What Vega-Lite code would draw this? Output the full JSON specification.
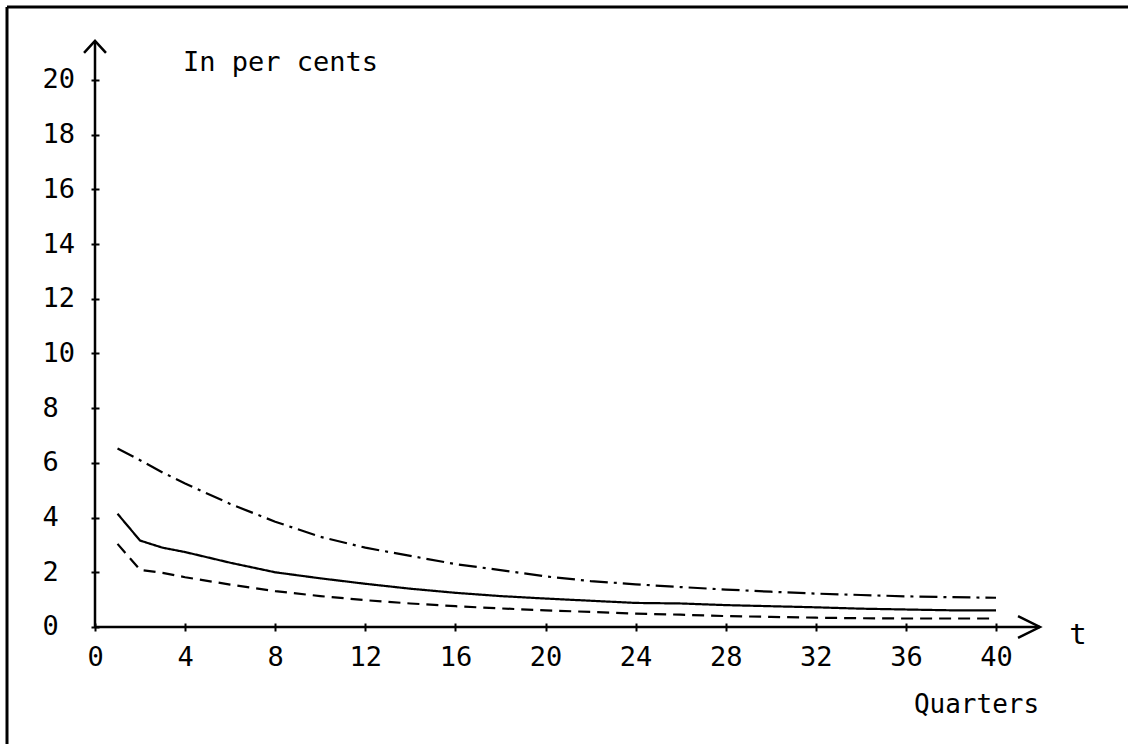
{
  "$schema": "https://vega.github.io/schema/vega-lite/v6.json",
  "width": 1121,
  "height": 737,
  "autosize": {"type": "none"},
  "padding": {"left": 7, "top": 7, "right": 0, "bottom": 0},
  "background": "white",
  "config": {
    "view": {"stroke": null},
    "font": "DejaVu Sans Mono"
  },
  "layer": [
    {
      "data": {
        "values": [
          {"t": 1, "value": 6.53, "series": "A"},
          {"t": 2, "value": 6.1, "series": "A"},
          {"t": 3, "value": 5.65, "series": "A"},
          {"t": 4, "value": 5.25, "series": "A"},
          {"t": 6, "value": 4.5, "series": "A"},
          {"t": 8, "value": 3.85, "series": "A"},
          {"t": 10, "value": 3.3, "series": "A"},
          {"t": 12, "value": 2.9, "series": "A"},
          {"t": 14, "value": 2.6, "series": "A"},
          {"t": 16, "value": 2.3, "series": "A"},
          {"t": 18, "value": 2.08, "series": "A"},
          {"t": 20, "value": 1.85, "series": "A"},
          {"t": 22, "value": 1.68, "series": "A"},
          {"t": 24, "value": 1.56, "series": "A"},
          {"t": 26, "value": 1.46, "series": "A"},
          {"t": 28, "value": 1.37, "series": "A"},
          {"t": 30, "value": 1.29, "series": "A"},
          {"t": 32, "value": 1.22, "series": "A"},
          {"t": 34, "value": 1.17, "series": "A"},
          {"t": 36, "value": 1.12, "series": "A"},
          {"t": 38, "value": 1.09, "series": "A"},
          {"t": 40, "value": 1.07, "series": "A"},
          {"t": 1, "value": 4.14, "series": "B"},
          {"t": 2, "value": 3.16, "series": "B"},
          {"t": 3, "value": 2.9, "series": "B"},
          {"t": 4, "value": 2.74, "series": "B"},
          {"t": 6, "value": 2.35, "series": "B"},
          {"t": 8, "value": 2.0, "series": "B"},
          {"t": 10, "value": 1.78, "series": "B"},
          {"t": 12, "value": 1.58, "series": "B"},
          {"t": 14, "value": 1.4, "series": "B"},
          {"t": 16, "value": 1.25, "series": "B"},
          {"t": 18, "value": 1.13, "series": "B"},
          {"t": 20, "value": 1.04, "series": "B"},
          {"t": 22, "value": 0.96, "series": "B"},
          {"t": 24, "value": 0.88, "series": "B"},
          {"t": 26, "value": 0.86, "series": "B"},
          {"t": 28, "value": 0.8, "series": "B"},
          {"t": 30, "value": 0.76, "series": "B"},
          {"t": 32, "value": 0.72, "series": "B"},
          {"t": 34, "value": 0.67, "series": "B"},
          {"t": 36, "value": 0.64, "series": "B"},
          {"t": 38, "value": 0.61, "series": "B"},
          {"t": 40, "value": 0.61, "series": "B"},
          {"t": 1, "value": 3.04, "series": "C"},
          {"t": 2, "value": 2.09, "series": "C"},
          {"t": 3, "value": 1.98, "series": "C"},
          {"t": 4, "value": 1.82, "series": "C"},
          {"t": 6, "value": 1.55, "series": "C"},
          {"t": 8, "value": 1.31, "series": "C"},
          {"t": 10, "value": 1.13, "series": "C"},
          {"t": 12, "value": 0.98, "series": "C"},
          {"t": 14, "value": 0.86, "series": "C"},
          {"t": 16, "value": 0.76, "series": "C"},
          {"t": 18, "value": 0.68, "series": "C"},
          {"t": 20, "value": 0.61, "series": "C"},
          {"t": 22, "value": 0.55, "series": "C"},
          {"t": 24, "value": 0.49, "series": "C"},
          {"t": 26, "value": 0.45, "series": "C"},
          {"t": 28, "value": 0.4, "series": "C"},
          {"t": 30, "value": 0.37, "series": "C"},
          {"t": 32, "value": 0.34, "series": "C"},
          {"t": 34, "value": 0.32, "series": "C"},
          {"t": 36, "value": 0.31, "series": "C"},
          {"t": 38, "value": 0.31, "series": "C"},
          {"t": 40, "value": 0.31, "series": "C"}
        ]
      },
      "mark": {"type": "line", "color": "black", "strokeWidth": 2.2},
      "encoding": {
        "x": {
          "field": "t",
          "type": "quantitative",
          "scale": {"domain": [-3.907, 45.86], "nice": false, "zero": false},
          "axis": {
            "values": [0, 4, 8, 12, 16, 20, 24, 28, 32, 36, 40],
            "offset": -121,
            "domain": false,
            "grid": false,
            "tickSize": 8,
            "tickWidth": 2,
            "tickColor": "black",
            "labelFont": "DejaVu Sans Mono",
            "labelFontSize": 27,
            "labelColor": "black",
            "labelPadding": 26,
            "labelBaseline": "middle",
            "labelFlush": false,
            "labelOverlap": false,
            "title": "Quarters",
            "titleFont": "DejaVu Sans Mono",
            "titleFontSize": 26,
            "titleFontWeight": "normal",
            "titleColor": "black",
            "titleAlign": "center",
            "titleAnchor": null,
            "titleBaseline": "alphabetic",
            "titleX": 969,
            "titleY": 89
          }
        },
        "y": {
          "field": "value",
          "type": "quantitative",
          "scale": {"domain": [-4.278, 22.669], "nice": false, "zero": false},
          "axis": {
            "values": [0, 2, 4, 6, 8, 10, 12, 14, 16, 18, 20],
            "offset": -92,
            "domain": false,
            "grid": false,
            "tickSize": 8,
            "tickWidth": 2,
            "tickColor": "black",
            "labelFont": "DejaVu Sans Mono",
            "labelFontSize": 27,
            "labelColor": "black",
            "labelAlign": "left",
            "labelPadding": 49,
            "labelBaseline": "middle",
            "labelFlush": false,
            "labelOverlap": false,
            "title": "In per cents",
            "titleFont": "DejaVu Sans Mono",
            "titleFontSize": 27,
            "titleFontWeight": "normal",
            "titleColor": "black",
            "titleAngle": 0,
            "titleAlign": "center",
            "titleAnchor": null,
            "titleBaseline": "alphabetic",
            "titleX": 181,
            "titleY": 63
          }
        },
        "strokeDash": {
          "field": "series",
          "type": "nominal",
          "scale": {"domain": ["A", "B", "C"], "range": [[18, 6, 3, 6], [1, 0], [12, 7]]},
          "legend": null
        }
      }
    },
    {
      "data": {
        "values": [
          {"xs": 0, "xe": 41.95, "ys": 0, "ye": 0, "w": "axis"},
          {"xs": 0, "xe": 0, "ys": 0, "ye": 21.43, "w": "axis"},
          {"xs": -3.907, "xe": 45.86, "ys": 22.669, "ye": 22.669, "w": "frame"},
          {"xs": -3.907, "xe": -3.907, "ys": -4.278, "ye": 22.669, "w": "frame"}
        ]
      },
      "mark": {"type": "rule", "color": "black"},
      "encoding": {
        "x": {"field": "xs", "type": "quantitative"},
        "x2": {"field": "xe"},
        "y": {"field": "ys", "type": "quantitative"},
        "y2": {"field": "ye"},
        "strokeWidth": {
          "field": "w",
          "type": "nominal",
          "scale": {"domain": ["axis", "frame"], "range": [2.5, 3]},
          "legend": null
        }
      }
    },
    {
      "data": {
        "values": [
          {"xs": 41.95, "ys": 0, "dir": "right"},
          {"xs": 0, "ys": 21.43, "dir": "up"}
        ]
      },
      "mark": {"type": "point", "filled": false, "color": "black", "strokeWidth": 2.5, "opacity": 1, "size": 480},
      "encoding": {
        "x": {"field": "xs", "type": "quantitative"},
        "y": {"field": "ys", "type": "quantitative"},
        "shape": {
          "field": "dir",
          "type": "nominal",
          "scale": {"domain": ["right", "up"], "range": ["M -2 -1 L 0 0 L -2 1", "M -1 1.1 L 0 0 L 1 1.1"]},
          "legend": null
        }
      }
    },
    {
      "data": {"values": [{"xs": 43.64, "ys": -0.29, "label": "t"}]},
      "mark": {"type": "text", "font": "DejaVu Sans Mono", "fontSize": 29, "color": "black", "align": "center", "baseline": "middle"},
      "encoding": {
        "x": {"field": "xs", "type": "quantitative"},
        "y": {"field": "ys", "type": "quantitative"},
        "text": {"field": "label"}
      }
    }
  ]
}
